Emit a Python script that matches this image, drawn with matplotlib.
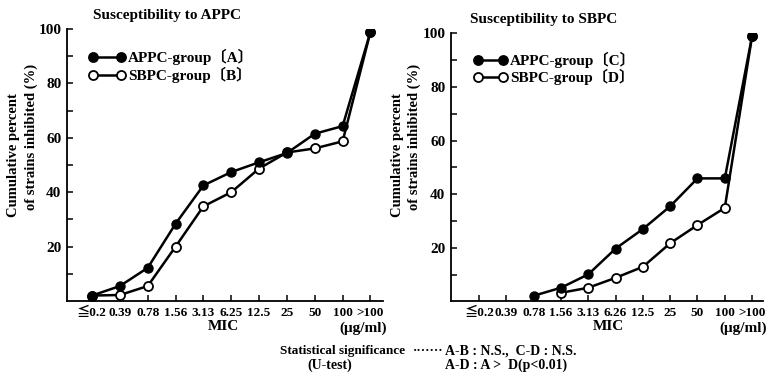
import matplotlib
matplotlib.use('Agg')
import matplotlib.pyplot as plt

plt.rcParams['font.family'] = ['Liberation Serif', 'DejaVu Serif', 'Noto Sans CJK JP']
plt.rcParams['font.weight'] = 'bold'

# ---- data ----
mic_left = ['≦0.2', '0.39', '0.78', '1.56', '3.13', '6.25', '12.5', '25', '50', '100', '>100']
mic_right = ['≦0.2', '0.39', '0.78', '1.56', '3.13', '6.26', '12.5', '25', '50', '100', '>100']

appc_A = [2, 5.5, 12.2, 28.4, 42.5, 47.4, 51, 54.4, 61.5, 64.3, 99]
sbpc_B = [2, 2.2, 5.5, 20, 34.8, 40, 48.7, 54.6, 56.1, 58.7, 99]

appc_C_start = 2
appc_C = [2.1, 5.1, 10.1, 19.7, 27, 35.5, 45.9, 45.9, 99]
sbpc_D_start = 3
sbpc_D = [3.2, 5.1, 8.8, 12.9, 21.7, 28.5, 34.9, 99]

W, H = 768, 375
fig = plt.figure(figsize=(W / 100, H / 100), dpi=100)


def fx(x):
    return x / W


def fy(y):
    return 1 - y / H


def make_axes(left, right, top, bottom, labels, xlim):
    ax = fig.add_axes([fx(left), fy(bottom), fx(right - left), (bottom - top) / H])
    ax.set_xlim(*xlim)
    ax.set_ylim(0, 100)
    for s in ['top', 'right']:
        ax.spines[s].set_visible(False)
    for s in ['left', 'bottom']:
        ax.spines[s].set_linewidth(1.3)
    ax.set_xticks(range(len(labels)))
    ax.set_xticklabels(labels, fontsize=9.5, fontweight='bold')
    ax.set_yticks(range(10, 101, 10))
    ax.set_yticklabels([str(v) if v % 20 == 0 else '' for v in range(10, 101, 10)],
                       fontsize=11, fontweight='bold')
    ax.tick_params(direction='in', length=4, width=1.1, pad=4)
    return ax


def draw(ax, xs, ys, filled):
    if filled:
        ax.plot(xs, ys, '-o', color='black', lw=1.8, ms=6.5, mfc='black',
                mec='black', zorder=3)
    else:
        ax.plot(xs, ys, '-o', color='black', lw=1.8, ms=6.5, mfc='white',
                mec='black', mew=1.3, zorder=2)


# left panel
ax1 = make_axes(67, 383, 29, 301, mic_left, (-0.9, 10.45))
draw(ax1, range(len(sbpc_B)), sbpc_B, False)
draw(ax1, range(len(appc_A)), appc_A, True)

# right panel
ax2 = make_axes(451, 763, 33.4, 301.4, mic_right, (-1.03, 10.4))
draw(ax2, range(sbpc_D_start, sbpc_D_start + len(sbpc_D)), sbpc_D, False)
draw(ax2, range(appc_C_start, appc_C_start + len(appc_C)), appc_C, True)

# titles
fig.text(fx(167), fy(15), 'Susceptibility to APPC', ha='center', va='center',
         fontsize=11, fontweight='bold')
fig.text(fx(544), fy(20), 'Susceptibility to SBPC', ha='center', va='center',
         fontsize=11, fontweight='bold')

# y labels
for x0 in (14, 397):
    fig.text(fx(x0), fy(155), 'Cumulative percent', rotation=90, ha='center',
             va='center', fontsize=10.5, fontweight='bold')
for x0 in (31, 414):
    fig.text(fx(x0), fy(137), 'of strains inhibited (%)', rotation=90,
             ha='center', va='center', fontsize=10.5, fontweight='bold')


# legends (drawn as lines with markers in figure coords)
def legend_entry(x0, x1, y, filled, text):
    line = plt.Line2D([fx(x0), fx(x1)], [fy(y), fy(y)], transform=fig.transFigure,
                      color='black', lw=1.8, marker='o', ms=6.5,
                      mfc='black' if filled else 'white', mec='black', mew=1.3)
    fig.add_artist(line)
    fig.text(fx(x1 + 7), fy(y), text, ha='left', va='center', fontsize=11,
             fontweight='bold')


legend_entry(93, 121, 57, True, 'APPC-group〔A〕')
legend_entry(93, 121, 75, False, 'SBPC-group〔B〕')
legend_entry(478, 503, 60, True, 'APPC-group〔C〕')
legend_entry(478, 503, 77, False, 'SBPC-group〔D〕')

# axis labels
fig.text(fx(223), fy(327), 'MIC', ha='center', va='center', fontsize=11, fontweight='bold')
fig.text(fx(608), fy(327), 'MIC', ha='center', va='center', fontsize=11, fontweight='bold')
fig.text(fx(363), fy(328), '(μg/ml)', ha='center', va='center', fontsize=11, fontweight='bold')
fig.text(fx(743), fy(328), '(μg/ml)', ha='center', va='center', fontsize=11, fontweight='bold')

# statistics note
fig.text(fx(280), fy(351), 'Statistical significance', ha='left', va='center',
         fontsize=9.5, fontweight='bold')
fig.text(fx(443), fy(351), '·······', ha='right', va='center',
         fontsize=9.5, fontweight='bold')
fig.text(fx(445), fy(351), 'A-B : N.S.,  C-D : N.S.', ha='left', va='center',
         fontsize=10, fontweight='bold')
fig.text(fx(330), fy(365), '(U-test)', ha='center', va='center',
         fontsize=10, fontweight='bold')
fig.text(fx(445), fy(365), 'A-D : A >  D(p<0.01)', ha='left', va='center',
         fontsize=10, fontweight='bold')

fig.savefig('out.png', dpi=100)
